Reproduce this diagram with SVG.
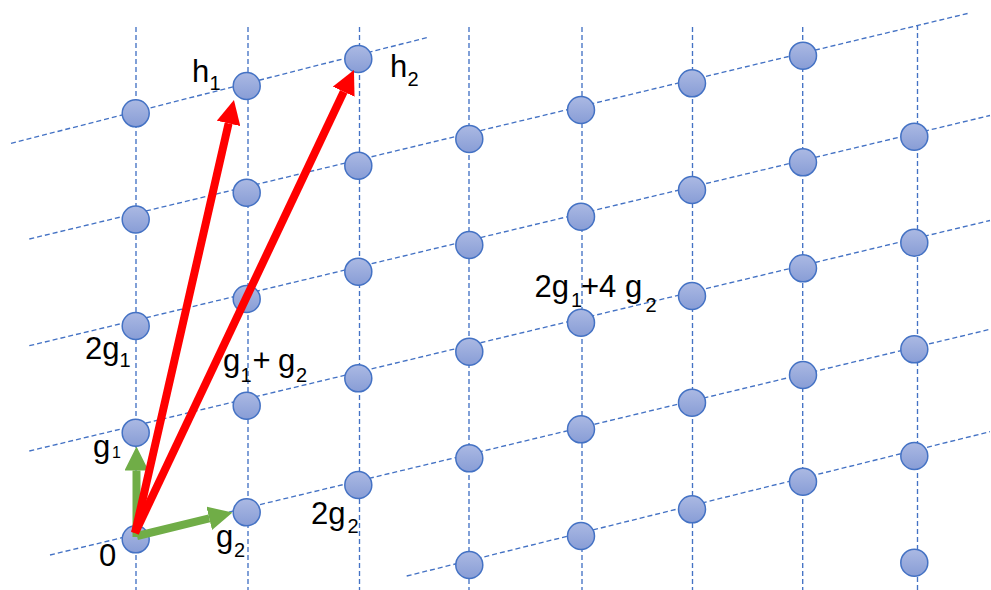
<svg xmlns="http://www.w3.org/2000/svg" width="991" height="590" viewBox="0 0 991 590">
<defs>
<linearGradient id="pg" x1="0" y1="0" x2="0" y2="1">
<stop offset="0" stop-color="#abb9e3"/>
<stop offset="1" stop-color="#889dd6"/>
</linearGradient>
<marker id="ahR" markerUnits="userSpaceOnUse" markerWidth="24" markerHeight="24" viewBox="0 0 24 24" refX="0" refY="12" orient="auto">
<path d="M0,0 L24,12 L0,24 z" fill="#ff0000"/>
</marker>
<marker id="ahG" markerUnits="userSpaceOnUse" markerWidth="24" markerHeight="24" viewBox="0 0 24 24" refX="0" refY="12" orient="auto">
<path d="M0,0 L24,12 L0,24 z" fill="#70ad47"/>
</marker>
</defs>
<style>
.grid{stroke:#4472c4;stroke-width:1.35;stroke-dasharray:5 3;fill:none}
.pt{fill:url(#pg);stroke:#4472c4;stroke-width:1.5}
.red{stroke:#ff0000;stroke-width:8;fill:none;marker-end:url(#ahR)}
.grn{stroke:#70ad47;stroke-width:8;fill:none;marker-end:url(#ahG)}
text{font-family:"Liberation Sans",Arial,sans-serif;font-size:31px;fill:#000}
.sub{font-size:20px}
.sub2{font-size:16px}
</style>
<rect width="991" height="590" fill="#ffffff"/>
<g id="grid">
<line class="grid" x1="136" y1="27" x2="136" y2="590"/>
<line class="grid" x1="248" y1="27" x2="248" y2="590"/>
<line class="grid" x1="359.5" y1="27" x2="359.5" y2="590"/>
<line class="grid" x1="469" y1="27" x2="469" y2="590"/>
<line class="grid" x1="582" y1="27" x2="582" y2="590"/>
<line class="grid" x1="692.5" y1="27" x2="692.5" y2="590"/>
<line class="grid" x1="802.7" y1="27" x2="802.7" y2="590"/>
<line class="grid" x1="917.5" y1="25" x2="917.5" y2="590"/>
<line class="grid" x1="11" y1="143.3" x2="428" y2="37.3"/>
<line class="grid" x1="29.3" y1="239" x2="968.3" y2="13.3"/>
<line class="grid" x1="29.3" y1="345.7" x2="990" y2="115.5"/>
<line class="grid" x1="29.3" y1="451" x2="990" y2="220.5"/>
<line class="grid" x1="50" y1="555" x2="990" y2="329.3"/>
<line class="grid" x1="406.7" y1="576" x2="990" y2="431.7"/>
</g>
<g id="points">
<circle class="pt" cx="135.7" cy="113.3" r="13.5"/>
<circle class="pt" cx="135.7" cy="219.5" r="13.5"/>
<circle class="pt" cx="135.7" cy="326" r="13.5"/>
<circle class="pt" cx="135.7" cy="432.7" r="13.5"/>
<circle class="pt" cx="135.7" cy="539.3" r="13.5"/>
<circle class="pt" cx="246.7" cy="86" r="13.5"/>
<circle class="pt" cx="246.7" cy="192.7" r="13.5"/>
<circle class="pt" cx="246.7" cy="299" r="13.5"/>
<circle class="pt" cx="246.7" cy="405.7" r="13.5"/>
<circle class="pt" cx="246.7" cy="512.3" r="13.5"/>
<circle class="pt" cx="358.3" cy="59" r="13.5"/>
<circle class="pt" cx="358.3" cy="165.7" r="13.5"/>
<circle class="pt" cx="358.3" cy="271.7" r="13.5"/>
<circle class="pt" cx="358.3" cy="378.3" r="13.5"/>
<circle class="pt" cx="358.3" cy="485" r="13.5"/>
<circle class="pt" cx="469.3" cy="139" r="13.5"/>
<circle class="pt" cx="469.3" cy="245" r="13.5"/>
<circle class="pt" cx="469.3" cy="351.7" r="13.5"/>
<circle class="pt" cx="469.3" cy="458.3" r="13.5"/>
<circle class="pt" cx="469.3" cy="565" r="13.5"/>
<circle class="pt" cx="581" cy="110" r="13.5"/>
<circle class="pt" cx="581" cy="216.7" r="13.5"/>
<circle class="pt" cx="581" cy="322.7" r="13.5"/>
<circle class="pt" cx="581" cy="429.3" r="13.5"/>
<circle class="pt" cx="581" cy="536" r="13.5"/>
<circle class="pt" cx="692" cy="83.3" r="13.5"/>
<circle class="pt" cx="692" cy="190" r="13.5"/>
<circle class="pt" cx="692" cy="296" r="13.5"/>
<circle class="pt" cx="692" cy="402.7" r="13.5"/>
<circle class="pt" cx="692" cy="509.3" r="13.5"/>
<circle class="pt" cx="803" cy="55.7" r="13.5"/>
<circle class="pt" cx="803" cy="162.3" r="13.5"/>
<circle class="pt" cx="803" cy="268.3" r="13.5"/>
<circle class="pt" cx="803" cy="375" r="13.5"/>
<circle class="pt" cx="803" cy="481.7" r="13.5"/>
<circle class="pt" cx="914.3" cy="136.7" r="13.5"/>
<circle class="pt" cx="914.3" cy="242.7" r="13.5"/>
<circle class="pt" cx="914.3" cy="349.3" r="13.5"/>
<circle class="pt" cx="914.3" cy="456" r="13.5"/>
<circle class="pt" cx="914.3" cy="562.7" r="13.5"/>
</g>
<g id="connectors">
<line id="vec-g1" class="grn" x1="136.5" y1="537" x2="136.5" y2="470.5"/>
<line id="vec-g2" class="grn" x1="137" y1="536" x2="209.2" y2="518.3"/>
<line id="vec-h1" class="red" x1="135" y1="533" x2="228.6" y2="123.4"/>
<line id="vec-h2" class="red" x1="135" y1="533" x2="343.7" y2="91.7"/>
</g>
<g id="labels">
<text id="lbl-h1" x="192" y="82">h<tspan class="sub" x="209.5" y="90">1</tspan></text>
<text id="lbl-h2" x="390" y="77">h<tspan class="sub" x="407.5" y="86">2</tspan></text>
<text id="lbl-2g1" x="85" y="359">2g<tspan class="sub" x="119.5" y="367">1</tspan></text>
<text id="lbl-g1" x="93" y="457">g<tspan class="sub2" x="112" y="458">1</tspan></text>
<text id="lbl-0" x="99" y="566">0</text>
<text id="lbl-g2" x="216" y="547">g<tspan class="sub" x="234" y="557">2</tspan></text>
<text id="lbl-2g2" x="311" y="524">2g<tspan class="sub" x="347.5" y="533">2</tspan></text>
<text id="lbl-g1g2" x="223" y="371">g<tspan class="sub" x="240.5" y="382">1</tspan><tspan x="252.5" y="371">+</tspan><tspan x="278" y="371">g</tspan><tspan class="sub" x="296" y="382">2</tspan></text>
<text id="lbl-2g14g2" x="534.5" y="297">2g<tspan class="sub" x="571" y="307">1</tspan><tspan x="581" y="297">+4</tspan><tspan x="625" y="297">g</tspan><tspan class="sub" x="645.5" y="312">2</tspan></text>
</g>
</svg>
